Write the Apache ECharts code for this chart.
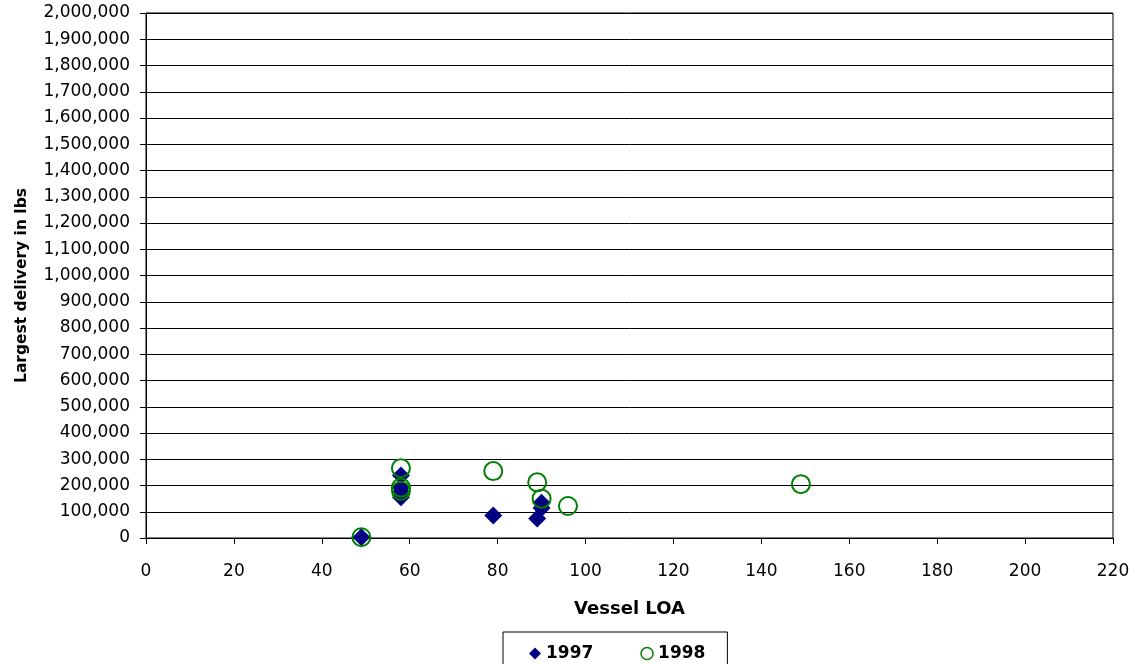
<!DOCTYPE html>
<html><head><meta charset="utf-8">
<script src="https://cdn.jsdelivr.net/npm/echarts@6/dist/echarts.min.js"></script>
<style>html,body{margin:0;padding:0;background:#fff}#c{width:1135px;height:664px}</style>
</head><body><div id="c"></div>
<script>
const seriesNames = ['1997', '1998'];
const loa1997 = [49, 58, 58, 58, 58, 79, 89, 90, 90];
const lbs1997 = [3000, 238000, 192000, 175000, 155000, 86000, 74000, 134000, 114000];
const loa1998 = [49, 58, 58, 58, 79, 89, 90, 96, 149];
const lbs1998 = [3000, 266000, 192000, 180000, 255000, 212000, 150000, 122000, 205000];

const pairs = (xs, ys) => xs.map((x, i) => [x, ys[i]]);
const font = 'DejaVu Sans, Arial, sans-serif';
const chart = echarts.init(document.getElementById('c'));
chart.setOption({
  animation: false,
  textStyle: {fontFamily: font},
  grid: {left: 146, right: 22, top: 13, bottom: 126, show: true, borderColor: '#000', borderWidth: 1,
    containLabel: false, outerBoundsMode: 'none'},
  xAxis: {
    type: 'value', min: 0, max: 220, interval: 20,
    name: 'Vessel LOA', nameLocation: 'middle', nameGap: 62,
    nameTextStyle: {fontFamily: font, fontSize: 18, fontWeight: 'bold', color: '#000'},
    axisLine: {lineStyle: {color: '#000'}},
    axisTick: {show: true, length: 6, lineStyle: {color: '#000'}},
    axisLabel: {fontFamily: font, fontSize: 17, color: '#000', margin: 25},
    splitLine: {show: false}
  },
  yAxis: {
    type: 'value', min: 0, max: 2000000, interval: 100000,
    name: 'Largest delivery in lbs', nameLocation: 'middle', nameGap: 116, nameRotate: 90,
    nameTextStyle: {fontFamily: font, fontSize: 15.5, fontWeight: 'bold', color: '#000', padding: [0, 20, 0, 0]},
    axisLine: {show: true, lineStyle: {color: '#000'}},
    axisTick: {show: true, length: 6, lineStyle: {color: '#000'}},
    axisLabel: {fontFamily: font, fontSize: 17, color: '#000', margin: 16,
      formatter: v => v.toLocaleString('en-US')},
    splitLine: {show: true, lineStyle: {color: '#000', width: 1}}
  },
  legend: {
    left: 503, top: 632,
    itemGap: 47, itemWidth: 12, itemHeight: 12,
    padding: [13, 22, 9, 26],
    borderColor: '#000', borderWidth: 1,
    textStyle: {fontFamily: font, fontSize: 17, fontWeight: 'bold', color: '#000'},
    data: [
      {name: seriesNames[0], icon: 'diamond', itemStyle: {color: '#000080', borderWidth: 0}},
      {name: seriesNames[1], icon: 'circle', itemStyle: {color: 'transparent', borderColor: '#008000', borderWidth: 1.5}}
    ]
  },
  series: [
    {name: seriesNames[0], type: 'scatter', symbol: 'diamond', symbolSize: 18,
      itemStyle: {color: '#000080', opacity: 1}, data: pairs(loa1997, lbs1997), z: 2},
    {name: seriesNames[1], type: 'scatter', symbol: 'circle', symbolSize: 18,
      itemStyle: {color: 'rgba(0,0,0,0)', borderColor: '#008000', borderWidth: 2, opacity: 1},
      data: pairs(loa1998, lbs1998), z: 3}
  ]
});
</script></body></html>
